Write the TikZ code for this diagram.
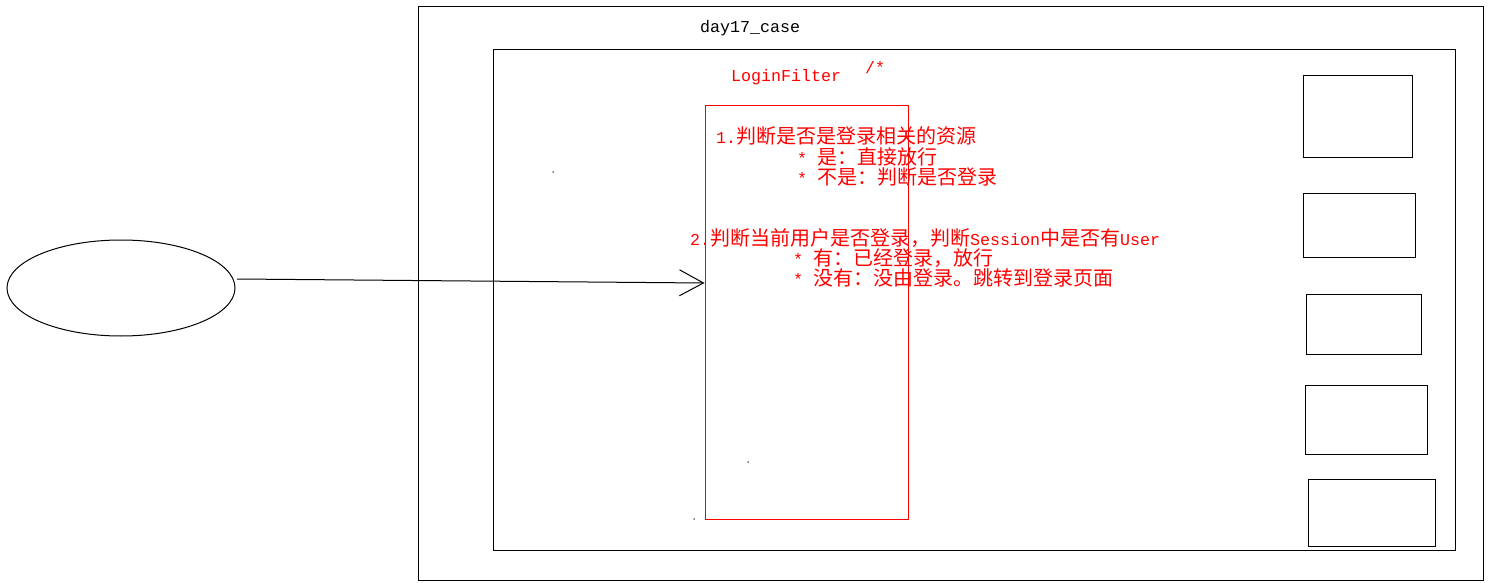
\documentclass[tikz,border=0pt]{standalone}
\usepackage{fontspec}
\setmainfont{Noto Sans CJK SC}
\newfontfamily\latnfont{Liberation Mono}
\newcommand\latn{\latnfont\fontsize{16.67}{20}\selectfont}
\newcommand\cjksz{\fontsize{20}{20}\selectfont}
\usetikzlibrary{arrows.meta,shapes.geometric}
\begin{document}
\begin{tikzpicture}[x=1pt,y=-1pt,
  frame/.style={draw=black,line width=1pt,inner sep=0pt,outer sep=0pt},
  rbox/.style={draw=red,line width=1pt,inner sep=0pt,outer sep=0pt},
  rtxt/.style={text=red,anchor=base west,inner sep=0pt,font=\cjksz},
  btxt/.style={text=black,anchor=base west,inner sep=0pt,font=\latn},
  conn/.style={draw=black,line width=1pt,-{Straight Barb[length=24pt,width=26pt,line width=1pt]}},
  dot/.style={fill=black,circle,inner sep=0pt,minimum size=1.5pt}]
\useasboundingbox (0,0) rectangle (1492,583);
% outer and inner frames
\node[frame,minimum width=1065,minimum height=573] (outer) at (950.5,293.5) {};
\node[frame,minimum width=962,minimum height=500] (inner) at (974,300) {};
% filter box
\node[rbox,minimum width=203,minimum height=413] (filter) at (806.5,312.5) {};
% client ellipse
\node[draw=black,line width=1pt,ellipse,minimum width=228,minimum height=96,inner sep=0pt] (client) at (121,288) {};
% resource boxes
\node[frame,minimum width=109,minimum height=82] (r1) at (1357.5,117) {};
\node[frame,minimum width=112,minimum height=63] (r2) at (1359,225.5) {};
\node[frame,minimum width=115,minimum height=60] (r3) at (1363.5,324) {};
\node[frame,minimum width=122,minimum height=69] (r4) at (1366,419.5) {};
\node[frame,minimum width=127,minimum height=67] (r5) at (1371.5,512.5) {};
% labels
\node[btxt] (proj) at (700,33) {day17\_case};
\node[btxt,text=red] (fname) at (731,82) {LoginFilter};
\node[btxt,text=red] (fpat) at (865,74) {/*};
\node[rtxt] (l1) at (716,144) {{\latn 1.}判断是否是登录相关的资源};
\node[rtxt] (l2) at (797,165) {{\latn * }是：直接放行};
\node[rtxt] (l3) at (797,185) {{\latn * }不是：判断是否登录};
\node[rtxt] (l4) at (690,245) {{\latn 2.}判断当前用户是否登录，判断{\latn Session}中是否有{\latn User}};
\node[rtxt] (l5) at (793,265) {{\latn * }有：已经登录，放行};
\node[rtxt] (l6) at (793,285) {{\latn * }没有：没由登录。跳转到登录页面};
% request arrow
\coordinate (s) at (237,279);
\coordinate (t) at (704.5,283);
\draw[conn] (s) -- (t);
% stray dots
\node[dot] (d1) at (553,172) {};
\node[dot] (d2) at (748,462) {};
\node[dot] (d3) at (694,519) {};
\end{tikzpicture}
\end{document}
